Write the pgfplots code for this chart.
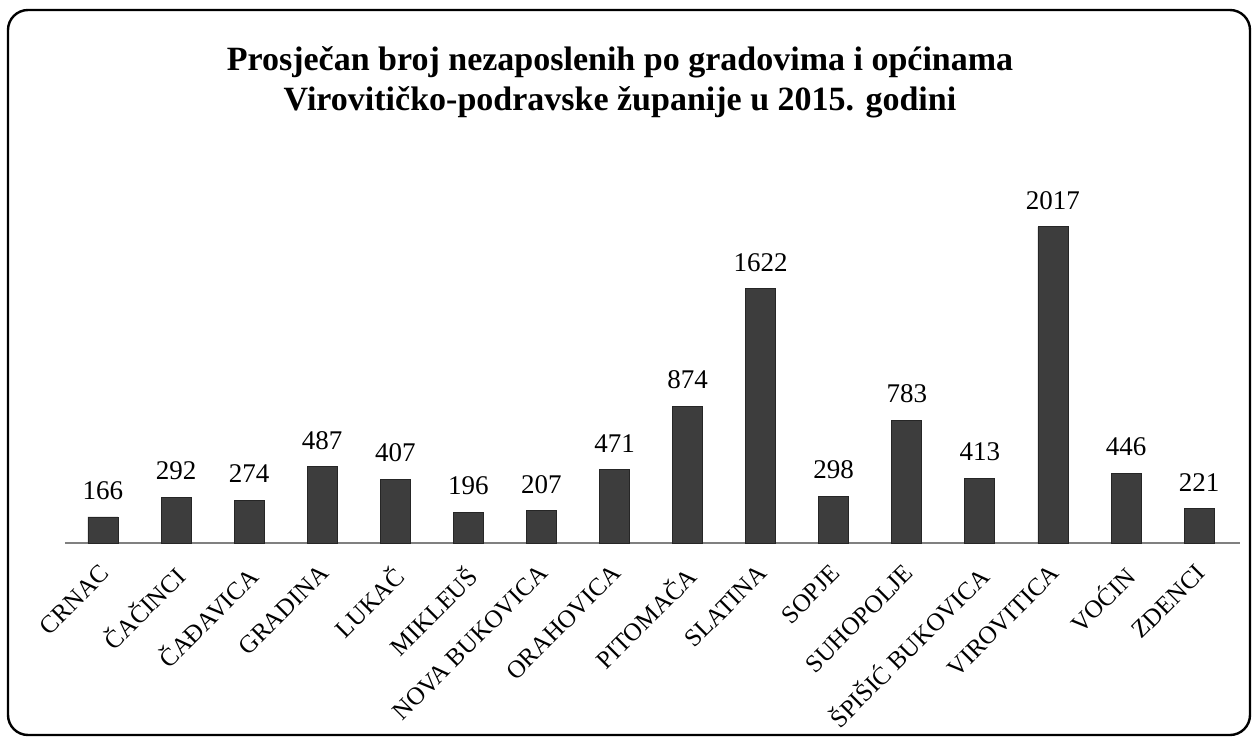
\documentclass[border=0pt]{standalone}
\usepackage{pgfplots}
\pgfplotsset{compat=1.18}
\usepackage{fontspec}
\setmainfont{Liberation Serif}
\begin{document}
\begin{tikzpicture}
\path (-32.5pt,-98.5pt) rectangle (594pt,271.5pt);
\begin{axis}[
  scale only axis, width=587.5pt, height=172.4pt,
  xmin=-0.52, xmax=15.56, ymin=0, ymax=2200,
  enlarge x limits=false,
  axis x line=bottom, axis y line=none,
  axis line style={gray, line width=0.6pt, -},
  xtick=data, major tick length=0pt,
  xticklabels={CRNAC, ČAČINCI, ČAĐAVICA, GRADINA, LUKAČ, MIKLEUŠ, NOVA BUKOVICA, ORAHOVICA, PITOMAČA, SLATINA, SOPJE, SUHOPOLJE, ŠPIŠIĆ BUKOVICA, VIROVITICA, VOĆIN, ZDENCI},
  xticklabel style={xshift=-2pt, yshift=-8.5pt, rotate=45, anchor=north east, font=\fontsize{12.5}{14}\selectfont, inner sep=1pt},
  ytick=\empty,
  ybar, bar width=15pt,
  /pgf/number format/assume math mode=true,
  /pgf/number format/1000 sep={},
  nodes near coords,
  every node near coord/.append style={font=\fontsize{13.5}{15}\selectfont, black, anchor=south, yshift=5pt},
]
\addplot[fill=black!76, draw=black!85] coordinates {
  (0,166) (1,292) (2,274) (3,487) (4,407) (5,196) (6,207) (7,471)
  (8,874) (9,1622) (10,298) (11,783) (12,413) (13,2017) (14,446) (15,221)};
\end{axis}
\draw[line width=1.2pt, rounded corners=10pt] (-28.5pt,-96pt) rectangle (592.5pt,266.5pt);
\node[align=center, font=\fontsize{17}{20}\selectfont\bfseries] at (277.5pt,230.5pt)
  {Prosječan broj nezaposlenih po gradovima i općinama\\Virovitičko-podravske županije u 2015. godini};
\end{tikzpicture}
\end{document}
